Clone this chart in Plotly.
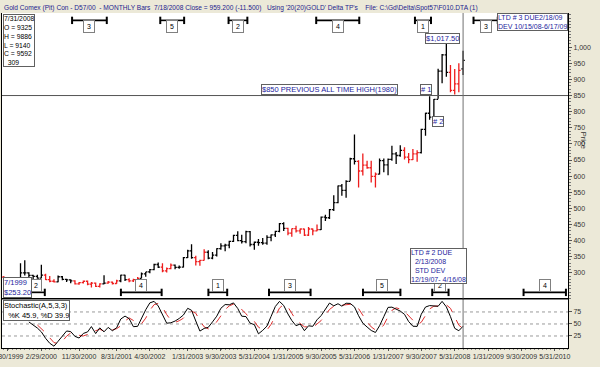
import plotly.graph_objects as go
import pandas as pd

# ---------------- data (monthly bars) ----------------
start_month = "1999-05-01"
opens = [
    287, 270, 262, 255, 255, 300, 300, 292,                      # 1999 May-Dec
    289, 284, 293, 279, 274, 272, 288, 280, 278, 275, 266, 270,  # 2000
    274, 265, 268, 258, 266, 268, 271, 267, 275, 293, 279, 275,  # 2001
    279, 283, 297, 303, 310, 326, 318, 306, 313, 324, 317, 318,  # 2002
    347, 368, 347, 335, 339, 364, 346, 355, 375, 384, 386, 398,  # 2003
    416, 400, 397, 428, 388, 395, 394, 392, 410, 418, 429, 453,  # 2004
    438, 423, 437, 430, 436, 417, 436, 430, 434, 473, 471, 496,  # 2005
    518, 570, 556, 584, 654, 646, 616, 634, 626, 599, 606, 648,  # 2006
    635, 652, 669, 664, 680, 659, 651, 669, 673, 745, 795, 783,  # 2007
    838, 926, 976, 922, 866, 886, 932.5,                         # 2008 Jan-Jul
]
highs = [
    290, 272, 265, 260, 330, 339, 302, 294,
    294, 325, 297, 290, 280, 292, 290, 282, 280, 277, 272, 276,
    276, 272, 270, 268, 293, 275, 273, 279, 294, 294, 283, 282,
    287, 301, 303, 312, 328, 332, 330, 317, 329, 326, 323, 349,
    372, 389, 353, 341, 373, 370, 365, 376, 392, 390, 400, 418,
    429, 418, 431, 430, 397, 405, 408, 417, 419, 431, 455, 457,
    440, 438, 446, 438, 437, 442, 438, 450, 475, 480, 498, 541,
    571, 576, 587, 657, 729, 649, 670, 648, 648, 611, 655, 655,
    655, 694, 675, 696, 690, 672, 684, 680, 747, 797, 848, 839,
    933, 979, 1017.5, 945, 932, 950, 988.6,
]
lows = [
    268, 257, 253.2, 252, 253, 292, 287, 280,
    282, 283, 278, 271, 270, 271, 277, 272, 268, 264, 263, 267,
    262, 255, 256, 255, 265, 266, 264, 266, 271, 275, 271, 272,
    277, 283, 288, 299, 308, 315, 302, 301, 311, 311, 313, 317,
    346, 344, 323, 322, 338, 342, 342, 351, 372, 367, 376, 396,
    398, 391, 392, 382, 372, 384, 387, 387, 398, 411, 426, 430,
    417, 412, 425, 421, 414, 414, 417, 429, 433, 461, 467, 492,
    516, 539, 533, 586, 636, 565, 602, 623, 580, 565, 605, 612,
    603, 648, 638, 660, 652, 640, 650, 645, 670, 725, 775, 780,
    840, 888, 908, 860, 853, 860, 914,
]
closes = [
    270, 262, 255, 255, 300, 300, 292, 289,
    284, 293, 279, 274, 272, 288, 280, 278, 275, 266, 270, 274,
    265, 268, 258, 266, 268, 271, 267, 275, 293, 279, 275, 279,
    283, 297, 303, 310, 326, 318, 306, 313, 324, 317, 318, 347,
    368, 347, 335, 339, 364, 346, 355, 375, 384, 386, 398, 416,
    400, 397, 428, 388, 395, 394, 392, 410, 418, 429, 453, 438,
    423, 437, 430, 436, 417, 436, 430, 434, 473, 471, 496, 518,
    570, 556, 584, 654, 646, 616, 634, 626, 599, 606, 648, 635,
    652, 669, 664, 680, 659, 651, 669, 673, 745, 795, 783, 838,
    926, 976, 922, 866, 886, 928, 959.2,
]
# bar colour flag: k = black, r = red
bar_flags = (
    "rrrrkkkk"
    "kkrrrkkkkrrr"
    "rrrrkrrrkkrr"
    "rkkkkkrrrkkk"
    "kkrrrkkkkkkk"
    "kkkkkkkkkkkk"
    "rrrrrrrrkkkk"
    "kkkkkrrrrrkk"
    "kkkkrrrrkkkk"
    "kkkrrrk"
)

stoch_levels = [25, 50, 75]
price_ticks = [300, 350, 400, 450, 500, 550, 600, 650, 700, 750, 800, 850, 900, 950, 1000]
price_tick_text = ["300", "350", "400", "450", "500", "550", "600", "650", "700", "750",
                   "800", "850", "900", "950", "1,000"]
date_ticks = ["1999-06-30", "2000-02-29", "2000-11-30", "2001-08-31", "2002-04-30", "2003-01-31",
              "2003-09-30", "2004-05-31", "2005-01-31", "2005-09-30", "2006-05-31", "2007-01-31",
              "2007-09-30", "2008-05-31", "2009-01-31", "2009-09-30", "2010-05-31"]
previous_high = 850
cursor_date = "2008-07-31"
x_range = ["1999-05-18", "2010-09-04"]

# time-band markers: (start, end, label)
top_bands = [("2000-10-10", "2001-06-20", "3"), ("2002-07-15", "2003-01-05", "5"),
             ("2003-11-25", "2004-04-10", "2"), ("2005-08-25", "2006-07-05", "4"),
             ("2007-08-15", "2007-12-10", "1"), ("2008-10-15", "2009-04-10", "3")]
bottom_bands = [("1999-11-15", "2000-03-25", "2"), ("2001-10-01", "2002-07-25", "4"),
                ("2003-07-01", "2003-11-15", "1"), ("2004-09-15", "2005-07-15", "3"),
                ("2006-08-01", "2007-05-01", "5"), ("2007-12-19", "2008-04-16", "2"),
                ("2009-10-15", "2010-08-20", "4")]

# ---------------- derived ----------------
dates = list(pd.date_range(start_month, periods=len(opens), freq="MS") + pd.offsets.MonthEnd(0))
df = pd.DataFrame({"d": dates, "o": opens, "h": highs, "l": lows, "c": closes, "f": list(bar_flags)})

hh = df["h"].rolling(5).max()
ll = df["l"].rolling(5).min()
rawk = (df["c"] - ll) / (hh - ll) * 100
k = rawk.rolling(3).mean()
d = k.rolling(3).mean()

fig = go.Figure()
for flag, col in (("k", "#000000"), ("r", "#ee1c1c")):
    sub = df[df["f"] == flag]
    fig.add_trace(go.Ohlc(x=sub["d"], open=sub["o"], high=sub["h"], low=sub["l"], close=sub["c"],
                          xaxis="x", yaxis="y2", tickwidth=0.45,
                          increasing=dict(line=dict(color=col, width=1.3)),
                          decreasing=dict(line=dict(color=col, width=1.3)),
                          hoverinfo="skip", showlegend=False))

fig.add_trace(go.Scatter(x=df["d"], y=d, mode="lines", line=dict(color="#e03030", width=1, dash="dash"),
                         xaxis="x", yaxis="y", showlegend=False))
fig.add_trace(go.Scatter(x=df["d"], y=k, mode="lines", line=dict(color="#000000", width=1),
                         xaxis="x", yaxis="y", showlegend=False))

SEP = 0.1463
shapes = []
for lv in stoch_levels:
    shapes.append(dict(type="line", xref="paper", x0=0, x1=1, yref="y", y0=lv, y1=lv,
                       line=dict(color="#9a9a9a", width=1, dash="dot"), layer="below"))
shapes.append(dict(type="line", xref="paper", x0=0, x1=1, yref="y2", y0=previous_high, y1=previous_high,
                   line=dict(color="#555555", width=1)))
shapes.append(dict(type="line", xref="x", x0=cursor_date, x1=cursor_date, yref="paper", y0=0, y1=1,
                   line=dict(color="#707070", width=1)))
shapes.append(dict(type="line", xref="paper", x0=0, x1=1, yref="paper", y0=SEP, y1=SEP,
                   line=dict(color="#000000", width=1)))

annotations = []
FAM = "Liberation Sans, Arial"
font_small = dict(family=FAM, size=7.5, color="#000000")
font_blue = dict(family=FAM, size=7.5, color="#1c1c9c")


def band(start, end, label, ypaper):
    shapes.append(dict(type="line", xref="x", x0=start, x1=end, yref="paper", y0=ypaper, y1=ypaper,
                       line=dict(color="#000000", width=1.6)))
    for xx in (start, end):
        shapes.append(dict(type="line", xref="x", x0=xx, x1=xx, yref="paper", y0=ypaper - 0.011,
                           y1=ypaper + 0.011, line=dict(color="#000000", width=2)))
    mid = pd.Timestamp(start) + (pd.Timestamp(end) - pd.Timestamp(start)) / 2
    annotations.append(dict(x=mid, xref="x", y=ypaper, yref="paper", text=label, showarrow=False,
                            font=dict(family=FAM, size=7, color="#000000"),
                            bgcolor="#ffffff", bordercolor="#808080", borderwidth=1, borderpad=1,
                            width=8, height=9))


for s, e, lab in top_bands:
    band(s, e, lab, 0.978)
for s, e, lab in bottom_bands:
    band(s, e, lab, 0.166)

# header text
annotations.append(dict(xref="paper", yref="paper", x=0.0, y=1.0, yanchor="bottom", xanchor="left",
                        yshift=-1,
                        text="Gold Comex (Pit) Con - D57/00  - MONTHLY Bars  7/18/2008 Close = 959.200 (-11.500)",
                        showarrow=False, font=dict(family=FAM, size=6.6, color="#23238e")))
annotations.append(dict(xref="paper", yref="paper", x=0.465, y=1.0, yanchor="bottom", xanchor="left",
                        yshift=-1,
                        text="Using '20(20)GOLD' Delta TP's    File: C:\\Gd\\Delta\\Spot57\\F010.DTA (1)",
                        showarrow=False, font=dict(family=FAM, size=6.6, color="#23238e")))
# info box
annotations.append(dict(xref="paper", yref="paper", x=0.0015, y=0.997, xanchor="left", yanchor="top",
                        text="7/31/2008<br>O = 9325<br>H = 9886<br>L = 9140<br>C = 9592<br>  309",
                        align="left", showarrow=False, font=dict(family=FAM, size=6.8, color="#000000"),
                        bgcolor="#ffffff", bordercolor="#606060", borderwidth=1, borderpad=0))
# price labels
annotations.append(dict(x=cursor_date, xref="x", y=1017.5, yref="y2", text="$1,017.50", showarrow=False,
                        xanchor="right", xshift=-3, yanchor="bottom", yshift=-2,
                        font=font_blue, bgcolor="#ffffff", bordercolor="#606060",
                        borderwidth=1, borderpad=0))
annotations.append(dict(x="2007-04-14", xref="x", y=850, yref="y2", text="$850 PREVIOUS ALL TIME HIGH(1980)",
                        showarrow=False, xanchor="right", yanchor="bottom", yshift=1, font=font_blue,
                        bgcolor="#ffffff", bordercolor="#606060", borderwidth=1, borderpad=0))
annotations.append(dict(x="2007-10-31", xref="x", y=850, yref="y2", text="# 1", showarrow=False,
                        yanchor="bottom", yshift=1, font=font_blue, bgcolor="#ffffff",
                        bordercolor="#606060", borderwidth=1, borderpad=0))
annotations.append(dict(x="2008-01-27", xref="x", y=768, yref="y2", text="# 2", showarrow=False,
                        font=font_blue, bgcolor="#ffffff", bordercolor="#606060",
                        borderwidth=1, borderpad=0))
annotations.append(dict(x="2008-01-31", xref="x", y=0.192, yref="paper", yanchor="bottom",
                        text="LTD # 2 DUE<br>  2/13/2008<br>  STD DEV<br>12/19/07- 4/16/08",
                        align="left", showarrow=False, font=dict(family=FAM, size=7, color="#1c1c9c"),
                        bgcolor="#ffffff", bordercolor="#606060", borderwidth=1, borderpad=0))
annotations.append(dict(x=1.0, xref="paper", y=1.0, yref="paper", xanchor="right", yanchor="top",
                        text="LTD # 3 DUE2/18/09<br>DEV 10/15/08-6/17/09",
                        align="left", showarrow=False, font=dict(family=FAM, size=7, color="#1c1c9c"),
                        bgcolor="#ffffff", bordercolor="#606060", borderwidth=1, borderpad=0))
annotations.append(dict(x=0.0015, xref="paper", y=SEP + 0.002, yref="paper", xanchor="left", yanchor="bottom",
                        text="7/1999<br>$253.20", align="left", showarrow=False, font=font_blue,
                        bgcolor="#ffffff", bordercolor="#606060", borderwidth=1, borderpad=0))
annotations.append(dict(x=0.0015, xref="paper", y=SEP - 0.002, yref="paper", xanchor="left", yanchor="top",
                        text="Stochastic(A,5,3,3)<br>  %K 45.9, %D 39.9", align="left", showarrow=False,
                        font=font_small, bgcolor="#ffffff", bordercolor="#606060", borderwidth=1,
                        borderpad=0))
annotations.append(dict(x=1.039, xref="paper", y=0.62, yref="paper", text="Price", textangle=90,
                        showarrow=False, font=dict(family=FAM, size=7.5, color="#333333")))

tick_font = dict(family=FAM, size=7, color="#333333")
fig.update_layout(
    width=600, height=367,
    margin=dict(l=2, r=32, t=13, b=19),
    paper_bgcolor="#ece9d8", plot_bgcolor="#ffffff",
    showlegend=False,
    xaxis=dict(type="date", range=x_range, anchor="y", domain=[0, 1], automargin=False,
               tickvals=date_ticks, ticktext=[pd.Timestamp(t).strftime("%-m/%-d/%Y") for t in date_ticks],
               tickangle=0, tickfont=tick_font, ticks="outside", ticklen=2, tickcolor="#555555",
               ticklabeloverflow="allow",
               showgrid=False, showline=True, linecolor="#000000", mirror=True, zeroline=False,
               rangeslider=dict(visible=False),
               minor=dict(dtick="M1", ticks="outside", ticklen=1, tickcolor="#888888")),
    yaxis=dict(domain=[0, SEP], range=[0, 102], side="right", anchor="x", automargin=False,
               tickvals=stoch_levels, tickfont=tick_font, ticks="outside", ticklen=3,
               tickcolor="#555555", showgrid=False, zeroline=False,
               showline=True, linecolor="#000000", mirror=True),
    yaxis2=dict(domain=[SEP, 1], range=[219, 1106], side="right", anchor="x", automargin=False,
                tickvals=price_ticks, ticktext=price_tick_text, tickfont=tick_font,
                ticks="outside", ticklen=3, tickcolor="#555555", showgrid=False, zeroline=False,
                showline=True, linecolor="#000000", mirror=True,
                minor=dict(dtick=10, ticks="outside", ticklen=2, tickcolor="#777777")),
    shapes=shapes, annotations=annotations,
)

fig.write_html("out.html", post_script="document.body.style.margin='0px';",
               config={"displayModeBar": False})
